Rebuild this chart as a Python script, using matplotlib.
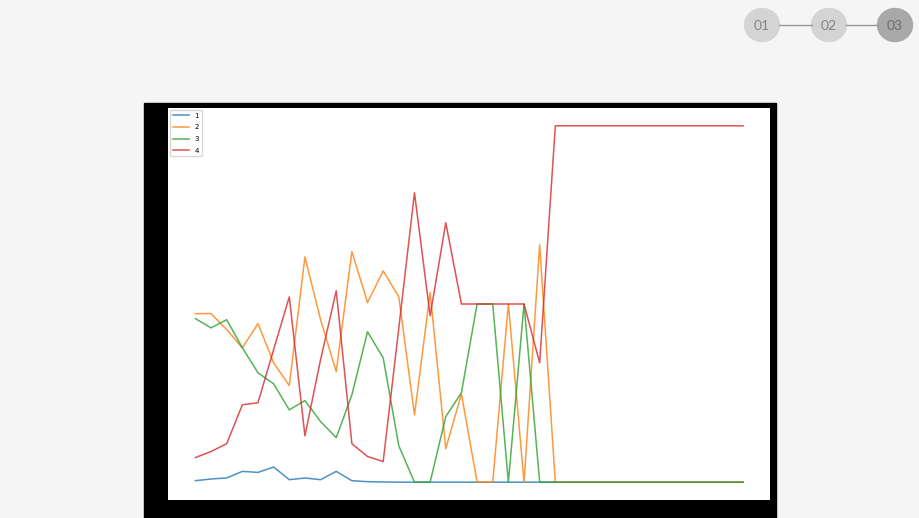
import matplotlib
matplotlib.use("Agg")
import matplotlib.pyplot as plt
from matplotlib.patches import Rectangle, Ellipse

# share (%) of each group per step
steps = list(range(36))
s1 = [0.42, 0.9, 1.18, 3.03, 2.75, 4.26, 0.7, 1.18, 0.7, 3.03, 0.42, 0.14, 0.05] + [0] * 23
s2 = [47.3, 47.3, 42.8, 37.7, 44.5, 33.5, 27.1, 63.2, 45.6, 31.0, 64.7, 50.4,
      59.3, 52.0, 18.9, 53.2, 9.4, 24.8, 0, 0, 50, 0, 66.6] + [0] * 13
s3 = [45.9, 43.3, 45.6, 37.7, 30.7, 27.6, 20.3, 22.9, 17.0, 12.5, 24.5, 42.2,
      34.9, 10.2, 0, 0, 18.4, 25.1, 50, 50, 0, 50, 0] + [0] * 13
s4 = [6.9, 8.6, 10.8, 21.7, 22.3, 37.2, 52.0, 13.0, 34.4, 53.7, 10.8, 7.2,
      5.8, 43.3, 81.2, 46.7, 72.8, 50, 50, 50, 50, 50, 33.5] + [100] * 13
series = [s1, s2, s3, s4]
labels = ["1", "2", "3", "4"]
steps_nav = ["01", "02", "03"]

W, H = 920, 518
fig = plt.figure(figsize=(W / 100, H / 100), dpi=100)
fig.patch.set_facecolor("#f5f5f5")

# background layer in pixel coords: black frame + step markers
bg = fig.add_axes([0, 0, 1, 1], zorder=0)
bg.set_xlim(0, W)
bg.set_ylim(H, 0)
bg.axis("off")
bg.add_patch(Rectangle((144, 103), 632, 420, color="black"))

cx = [762, 829, 895]
cy = 25
bg.plot([779, 812], [cy, cy], color="#999999", lw=1.0)
bg.plot([846, 878], [cy, cy], color="#999999", lw=1.0)
for i, (x, t) in enumerate(zip(cx, steps_nav)):
    last = i == len(cx) - 1
    bg.add_patch(Ellipse((x, cy), 35, 33, color="#a8a8a8" if last else "#d4d4d4"))
    bg.text(x, cy + 1, t, ha="center", va="center", fontsize=10,
            color="#6e6e6e" if last else "#858585", family="Lato")

# main chart
ax = fig.add_axes([168 / W, 1 - 500 / H, 602.5 / W, 392 / H], zorder=1)
ax.set_facecolor("white")
for s, lab in zip(series, labels):
    ax.plot(steps, s, lw=1.1, alpha=0.8, label=lab)
ax.set_xticks([])
ax.set_yticks([])
for sp in ax.spines.values():
    sp.set_visible(False)
ax.legend(loc="upper left", fontsize=5, handlelength=2.3,
          borderaxespad=0.3, labelspacing=0.8)

fig.savefig("out.png", dpi=100, facecolor=fig.get_facecolor())
